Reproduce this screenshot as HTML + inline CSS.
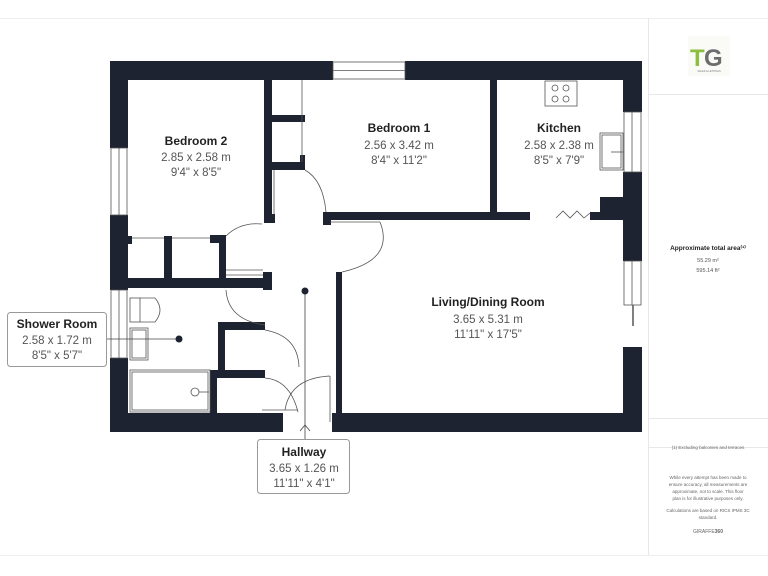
<!DOCTYPE html>
<html><head><meta charset="utf-8"><style>
html,body{margin:0;padding:0;background:#fff;}
svg{display:block;}
text{font-family:"Liberation Sans",sans-serif;}
</style></head><body>
<svg width="768" height="576" viewBox="0 0 768 576" xmlns="http://www.w3.org/2000/svg">
<rect width="768" height="576" fill="#fff"/>
<!-- page frame lines -->
<line x1="0" y1="18.5" x2="768" y2="18.5" stroke="#eee"/>
<line x1="0" y1="555.5" x2="768" y2="555.5" stroke="#eee"/>
<line x1="648.5" y1="18" x2="648.5" y2="555" stroke="#e8e8e8"/>
<line x1="648" y1="94.5" x2="768" y2="94.5" stroke="#e8e8e8"/>
<line x1="648" y1="418.5" x2="768" y2="418.5" stroke="#e8e8e8"/>
<line x1="648" y1="447.5" x2="768" y2="447.5" stroke="#e8e8e8"/>

<!-- logo -->
<rect x="688" y="36" width="42" height="40" fill="#fafaf7"/>
<text x="690" y="66" font-size="24" font-weight="bold" fill="#8cbf3f" letter-spacing="-3">T</text>
<text x="704" y="66" font-size="24" font-weight="bold" fill="#6d6d6d">G</text>
<text x="709" y="72" font-size="2.5" fill="#777" text-anchor="middle">SALES &amp; LETTINGS</text>

<text x="708" y="250" font-size="6.5" font-weight="bold" fill="#222" text-anchor="middle">Approximate total area⁽¹⁾</text>
<text x="708" y="262" font-size="5.5" fill="#555" text-anchor="middle">55.29 m²</text>
<text x="708" y="272" font-size="5.5" fill="#555" text-anchor="middle">595.14 ft²</text>
<text x="708" y="449" font-size="4.5" fill="#666" text-anchor="middle">(1) Excluding balconies and terraces</text>
<g font-size="4.5" fill="#666" text-anchor="middle">
<text x="708" y="479">While every attempt has been made to</text>
<text x="708" y="486">ensure accuracy, all measurements are</text>
<text x="708" y="493">approximate, not to scale. This floor</text>
<text x="708" y="500">plan is for illustrative purposes only.</text>
<text x="708" y="512">Calculations are based on RICS IPMS 3C</text>
<text x="708" y="519">standard.</text>
<text x="708" y="533" font-size="5">GIRAFFE<tspan font-weight="bold">360</tspan></text>
</g>

<g fill="#1d2330">
<!-- top wall -->
<rect x="110" y="61" width="223" height="19"/>
<rect x="405" y="61" width="237" height="19"/>
<!-- left wall -->
<rect x="110" y="61" width="18" height="87"/>
<rect x="110" y="215" width="18" height="75"/>
<rect x="110" y="358" width="18" height="74"/>
<!-- right wall -->
<rect x="623" y="61" width="19" height="51"/>
<rect x="623" y="172" width="19" height="89"/>
<rect x="623" y="347" width="19" height="85"/>
<!-- bottom wall -->
<rect x="110" y="413" width="173" height="19"/>
<rect x="332" y="413" width="310" height="19"/>
<!-- kitchen bump -->
<rect x="600" y="197" width="23" height="23"/>
<rect x="590" y="212" width="12" height="8"/>
<!-- bedroom1/living wall -->
<rect x="326" y="212" width="204" height="8"/>
<rect x="323" y="212" width="8" height="13"/>
<!-- bedroom1/kitchen -->
<rect x="490" y="80" width="7" height="132"/>
<!-- living left wall -->
<rect x="336" y="272" width="6" height="141"/>
<!-- bedroom2 right wall -->
<rect x="264" y="80" width="8" height="143"/>
<rect x="264" y="214" width="11" height="9"/>
<!-- closet -->
<rect x="272" y="115" width="33" height="7"/>
<rect x="272" y="162" width="33" height="8"/>
<rect x="300" y="155" width="5" height="15"/>
<!-- cupboards -->
<rect x="128" y="278" width="144" height="10"/>
<rect x="128" y="236" width="4" height="8"/>
<rect x="164" y="236" width="8" height="42"/>
<rect x="210" y="235" width="16" height="8"/>
<rect x="219" y="235" width="7" height="45"/>
<rect x="263" y="272" width="9" height="18"/>
<!-- shower/hall walls -->
<rect x="218" y="322" width="47" height="8"/>
<rect x="218" y="322" width="7" height="50"/>
<rect x="210" y="370" width="55" height="8"/>
<rect x="210" y="370" width="7" height="43"/>
</g>

<g fill="none" stroke="#555" stroke-width="0.8">
<!-- windows -->
<rect x="333" y="62" width="72" height="17"/>
<line x1="333" y1="70.5" x2="405" y2="70.5"/>
<rect x="111" y="148" width="16" height="67"/>
<line x1="119" y1="148" x2="119" y2="215"/>
<rect x="111" y="290" width="16" height="68"/>
<line x1="119" y1="290" x2="119" y2="358"/>
<rect x="624" y="112" width="17" height="60"/>
<line x1="632" y1="112" x2="632" y2="172"/>
<rect x="624" y="261" width="17" height="44"/>
<line x1="632" y1="261" x2="632" y2="305"/>
<line x1="633" y1="305" x2="633" y2="326" stroke-width="1.5"/>
<!-- closet doors -->
<line x1="302" y1="80" x2="302" y2="162"/>
<line x1="274" y1="170" x2="274" y2="214"/>
<!-- cupboard doors -->
<line x1="132" y1="238" x2="164" y2="238"/>
<line x1="172" y1="238" x2="210" y2="238"/>
<line x1="226" y1="270" x2="263" y2="270"/>
<line x1="226" y1="275" x2="263" y2="275"/>
<line x1="330" y1="222" x2="380" y2="222"/>
<!-- door arcs -->
<path d="M 226 236 Q 240 222 262 224"/>
<path d="M 305 170 Q 323 180 326 212"/>
<path d="M 380 222 Q 395 260 342 272"/>
<path d="M 226 290 Q 228 320 265 325"/>
<path d="M 265 330 Q 298 336 299 367"/>
<path d="M 265 378 Q 290 380 298 412"/>
<path d="M 285 410 Q 290 378 330 376"/>
<line x1="330" y1="376" x2="330" y2="422"/>
<line x1="262" y1="410" x2="298" y2="410"/>
<!-- zigzag door -->
<path d="M 556 218 L 563 211 L 570 218 L 577 211 L 584 218 L 590 213"/>
<!-- hob -->
<rect x="545" y="81" width="32" height="25"/>
<circle cx="555" cy="88" r="3"/><circle cx="566" cy="88" r="3"/>
<circle cx="555" cy="99" r="3"/><circle cx="566" cy="99" r="3"/>
<!-- kitchen sink -->
<rect x="600" y="133" width="23" height="37"/>
<rect x="602" y="135" width="19" height="33"/>
<line x1="611" y1="152" x2="623" y2="152"/>
<!-- toilet -->
<rect x="130" y="298" width="10" height="24"/>
<path d="M 140 298 L 155 298 Q 165 310 155 322 L 140 322"/>
<!-- bathroom sink -->
<rect x="130" y="328" width="18" height="32"/>
<rect x="132" y="330" width="14" height="28"/>
<!-- bath -->
<rect x="130" y="370" width="80" height="42"/>
<rect x="132" y="372" width="76" height="38"/>
<circle cx="195" cy="392" r="4"/>
<line x1="199" y1="392" x2="209" y2="392"/>
</g>

<!-- labels -->
<g text-anchor="middle">
<text x="196" y="145" font-size="12" font-weight="bold" fill="#222">Bedroom 2</text>
<text x="196" y="161" font-size="11.5" fill="#555">2.85 x 2.58 m</text>
<text x="196" y="176" font-size="11.5" fill="#555">9'4" x 8'5"</text>
<text x="399" y="132" font-size="12" font-weight="bold" fill="#222">Bedroom 1</text>
<text x="399" y="149" font-size="11.5" fill="#555">2.56 x 3.42 m</text>
<text x="399" y="164" font-size="11.5" fill="#555">8'4" x 11'2"</text>
<text x="559" y="132" font-size="12" font-weight="bold" fill="#222">Kitchen</text>
<text x="559" y="149" font-size="11.5" fill="#555">2.58 x 2.38 m</text>
<text x="559" y="164" font-size="11.5" fill="#555">8'5" x 7'9"</text>
<text x="488" y="306" font-size="12" font-weight="bold" fill="#222">Living/Dining Room</text>
<text x="488" y="323" font-size="11.5" fill="#555">3.65 x 5.31 m</text>
<text x="488" y="338" font-size="11.5" fill="#555">11'11" x 17'5"</text>
</g>

<!-- callouts -->
<line x1="106" y1="339" x2="179" y2="339" stroke="#444" stroke-width="0.8"/>
<circle cx="179" cy="339" r="3.5" fill="#1d2330"/>
<rect x="7.5" y="312.5" width="99" height="54" rx="3" fill="#fff" stroke="#999"/>
<g text-anchor="middle">
<text x="57" y="328" font-size="12" font-weight="bold" fill="#222">Shower Room</text>
<text x="57" y="344" font-size="11.5" fill="#555">2.58 x 1.72 m</text>
<text x="57" y="359" font-size="11.5" fill="#555">8'5" x 5'7"</text>
</g>
<line x1="305" y1="291" x2="305" y2="439" stroke="#444" stroke-width="0.8"/>
<circle cx="305" cy="291" r="3.5" fill="#1d2330"/>
<path d="M 300 431 L 305 425 L 310 431" fill="none" stroke="#444" stroke-width="0.8"/>
<rect x="257.5" y="439.5" width="92" height="54" rx="3" fill="#fff" stroke="#999"/>
<g text-anchor="middle">
<text x="304" y="456" font-size="12" font-weight="bold" fill="#222">Hallway</text>
<text x="304" y="472" font-size="11.5" fill="#555">3.65 x 1.26 m</text>
<text x="304" y="487" font-size="11.5" fill="#555">11'11" x 4'1"</text>
</g>
</svg>
</body></html>
